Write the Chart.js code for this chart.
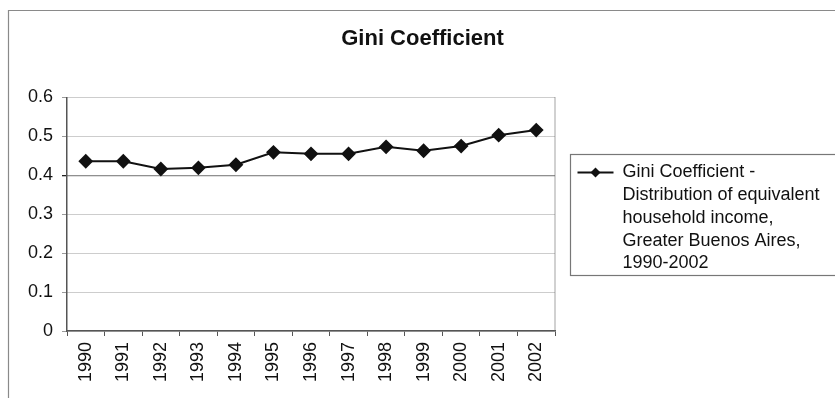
<!DOCTYPE html>
<html>
<head>
<meta charset="utf-8">
<script src="https://cdn.jsdelivr.net/npm/chart.js@4.4.1/dist/chart.umd.min.js"></script>
<style>
  html, body { margin: 0; padding: 0; background: #fff; }
  #wrap { width: 835px; height: 398px; }
</style>
</head>
<body>
<div id="wrap"><canvas id="c" width="835" height="398"></canvas></div>
<script>
// Gini coefficient of equivalent household income, Greater Buenos Aires
const years = ['1990','1991','1992','1993','1994','1995','1996','1997','1998','1999','2000','2001','2002'];
const gini = [0.436, 0.436, 0.416, 0.419, 0.427, 0.459, 0.455, 0.455, 0.473, 0.463, 0.475, 0.503, 0.516];
const yTicks = [0, 0.1, 0.2, 0.3, 0.4, 0.5, 0.6];
const chartTitle = 'Gini Coefficient';
const legendLines = ['Gini Coefficient -', 'Distribution of equivalent', 'household income,', 'Greater Buenos Aires,', '1990-2002'];

const FONT = "'Liberation Sans', Arial, sans-serif";

// Outer frame, plot frame and the boxed legend to the right of the plot
const decorations = {
  id: 'decorations',
  beforeDraw(chart) {
    const ctx = chart.ctx;
    ctx.save();
    ctx.fillStyle = '#fff';
    ctx.fillRect(0, 0, chart.width, chart.height);
    ctx.strokeStyle = '#8a8a8a';
    ctx.lineWidth = 1.2;
    ctx.beginPath();
    ctx.moveTo(8.5, chart.height);
    ctx.lineTo(8.5, 10.5);
    ctx.lineTo(chart.width, 10.5);
    ctx.stroke();
    ctx.restore();
  },
  afterDatasetsDraw(chart) {
    const ctx = chart.ctx;
    const a = chart.chartArea;
    ctx.save();
    // right edge of the plot frame
    ctx.strokeStyle = '#666';
    ctx.lineWidth = 1.2;
    ctx.setLineDash([1, 1]);
    ctx.beginPath();
    ctx.moveTo(a.right, a.top);
    ctx.lineTo(a.right, a.bottom);
    ctx.stroke();
    ctx.setLineDash([]);

    // legend box
    const bx = a.right + 15.5, by = 154.5, bw = chart.width - bx + 2, bh = 121;
    ctx.strokeStyle = '#777';
    ctx.lineWidth = 1.2;
    ctx.strokeRect(bx, by, bw, bh);

    const sy = by + 18;
    ctx.strokeStyle = '#111';
    ctx.lineWidth = 2;
    ctx.beginPath();
    ctx.moveTo(bx + 7, sy);
    ctx.lineTo(bx + 43, sy);
    ctx.stroke();
    ctx.fillStyle = '#111';
    ctx.beginPath();
    const cx = bx + 25, r = 5;
    ctx.moveTo(cx, sy - r);
    ctx.lineTo(cx + r, sy);
    ctx.lineTo(cx, sy + r);
    ctx.lineTo(cx - r, sy);
    ctx.closePath();
    ctx.fill();

    ctx.fillStyle = '#111';
    ctx.font = '18px ' + FONT;
    ctx.textBaseline = 'middle';
    ctx.textAlign = 'left';
    legendLines.forEach((line, i) => {
      ctx.fillText(line, bx + 52, sy + i * 22.7);
    });
    ctx.restore();
  }
};

new Chart(document.getElementById('c'), {
  type: 'line',
  data: {
    labels: years,
    datasets: [{
      label: legendLines.join(' '),
      data: gini,
      borderColor: '#111',
      backgroundColor: '#111',
      borderWidth: 2,
      pointStyle: 'rectRot',
      pointRadius: 6,
      pointHoverRadius: 6,
      pointBackgroundColor: '#111',
      pointBorderColor: '#111',
      tension: 0
    }]
  },
  options: {
    responsive: false,
    animation: false,
    devicePixelRatio: 1,
    layout: { padding: { left: 10, right: 0, top: 14, bottom: 0 } },
    plugins: {
      legend: { display: false },
      tooltip: { enabled: false },
      title: {
        display: true,
        text: chartTitle,
        color: '#111',
        font: { family: FONT, size: 22, weight: 'bold' },
        padding: { top: 12, bottom: 45 }
      }
    },
    scales: {
      x: {
        type: 'category',
        offset: true,
        grid: {
          offset: true,
          drawOnChartArea: false,
          drawTicks: true,
          tickLength: 5,
          color: '#555'
        },
        border: { display: true, color: '#555', width: 1.5, dash: [1, 1] },
        ticks: {
          color: '#111',
          font: { family: FONT, size: 18 },
          minRotation: 90,
          maxRotation: 90,
          padding: 6,
          autoSkip: false
        },
        afterFit(scale) { scale.height = 67; }
      },
      y: {
        min: 0,
        max: 0.6,
        afterBuildTicks(scale) { scale.ticks = yTicks.map(v => ({ value: v })); },
        grid: {
          drawTicks: true,
          tickLength: 5,
          color: ctx => (ctx.tick && ctx.tick.value === 0.4) ? '#222' : '#9a9a9a',
          lineWidth: ctx => (ctx.tick && ctx.tick.value === 0.4) ? 1.3 : 1
        },
        border: { display: true, color: '#555', width: 1.5, dash: [1, 1] },
        ticks: {
          color: '#111',
          font: { family: FONT, size: 18 },
          padding: 9,
          callback: v => String(v)
        },
        afterFit(scale) { scale.width = 57; }
      },
      // empty right-hand axis that reserves room for the legend box
      legendSpace: {
        type: 'linear',
        position: 'right',
        display: true,
        grid: { display: false, drawTicks: false },
        border: { display: false },
        ticks: { display: false },
        afterFit(scale) { scale.width = 280; }
      }
    }
  },
  plugins: [decorations]
});
</script>
</body>
</html>
